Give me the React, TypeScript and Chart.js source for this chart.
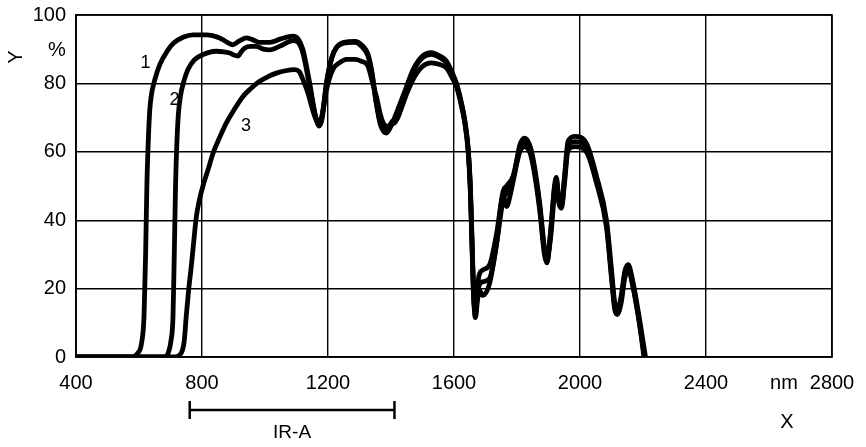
import React, { useEffect, useRef } from "react";
import { Chart, registerables } from "chart.js";

Chart.register(...registerables);

// Wavelength (nm) and transmission (%) for each curve
const wl1 = [400, 580, 595, 608, 616, 621, 625, 629, 634, 640, 650, 666, 690, 710, 740, 771, 814, 856, 880, 898, 920, 941, 960, 983, 1015, 1050, 1089, 1105, 1120, 1142, 1160, 1172, 1182, 1195, 1212, 1227, 1250, 1285, 1310, 1327, 1340, 1352, 1366, 1385, 1400, 1420, 1445, 1470, 1500, 1528, 1555, 1576, 1595, 1608, 1622, 1634, 1645, 1652, 1657, 1662, 1668, 1674, 1680, 1692, 1713, 1735, 1756, 1767, 1788, 1800, 1809, 1824, 1840, 1851, 1872, 1887, 1895, 1903, 1909, 1919, 1925, 1933, 1941, 1951, 1962, 1983, 2020, 2052, 2084, 2100, 2110, 2118, 2131, 2142, 2153, 2168, 2189, 2208];
const t1 = [0, 0, 1, 4, 12, 30, 50, 62, 72, 77, 81, 85.5, 89.5, 91.8, 93.5, 94.2, 94.2, 93.3, 92, 91.3, 92.5, 93.3, 92.8, 92, 92, 93, 93.8, 93, 90, 80, 70.5, 67.5, 70, 80, 87.5, 90.5, 92, 92.3, 91, 88.5, 83, 75, 68, 65.5, 67.5, 72, 78, 84, 88, 89, 88, 86.5, 83, 80, 75, 69.4, 61, 50, 35, 20, 12, 20, 24, 25.5, 27, 36, 48.5, 50, 53, 58, 62, 64, 62, 58, 45, 32, 28, 33, 39, 50, 52.5, 46, 44.5, 53, 63, 64.5, 62.5, 53, 40, 25.5, 16, 13.5, 18, 25, 27, 22, 11, 0];

const wl2 = [400, 680, 692, 702, 708, 712, 716, 720, 725, 732, 742, 755, 775, 793, 820, 846, 870, 888, 903, 914, 925, 935, 955, 973, 995, 1015, 1050, 1089, 1105, 1120, 1142, 1160, 1170, 1182, 1195, 1212, 1227, 1250, 1285, 1310, 1327, 1340, 1352, 1368, 1388, 1400, 1412, 1425, 1445, 1470, 1500, 1528, 1555, 1576, 1595, 1608, 1622, 1634, 1645, 1652, 1657, 1662, 1668, 1674, 1680, 1692, 1713, 1735, 1756, 1767, 1788, 1809, 1824, 1840, 1851, 1872, 1887, 1895, 1903, 1909, 1919, 1925, 1933, 1941, 1951, 1962, 1983, 2020, 2052, 2084, 2100, 2110, 2118, 2131, 2142, 2153, 2168, 2189, 2205];
const t2 = [0, 0, 1, 5, 12, 30, 50, 62, 71, 76.5, 80.5, 84, 86.8, 88, 89, 89.4, 89.2, 88.9, 88.2, 88, 89.3, 90.3, 90.8, 90.8, 90, 89.8, 91, 92.5, 92, 89, 79, 70.5, 68.5, 71, 80, 87.5, 90.5, 91.8, 92, 90.5, 88, 82.5, 75, 68.5, 66.5, 68, 68.5, 71, 77, 83.5, 87.5, 88.5, 87.5, 86, 82.5, 79.5, 74.5, 69, 60.5, 49, 34, 19, 13, 18, 21, 22, 23, 33, 46, 48, 52.5, 61, 62.5, 61, 57, 44, 31, 28, 33, 39, 49.5, 51.5, 45.5, 44, 52, 61.5, 63, 61.5, 52, 39, 24, 15, 12.5, 17, 24, 26, 21, 10, 0];

const wl3 = [400, 715, 728, 738, 744, 750, 758, 766, 774, 782, 792, 803, 820, 835, 855, 877, 900, 930, 955, 983, 1010, 1036, 1065, 1094, 1108, 1121, 1137, 1152, 1164, 1174, 1184, 1195, 1215, 1236, 1260, 1285, 1305, 1327, 1342, 1354, 1366, 1378, 1392, 1405, 1418, 1430, 1450, 1475, 1500, 1528, 1555, 1576, 1595, 1608, 1622, 1634, 1645, 1652, 1657, 1662, 1668, 1674, 1680, 1692, 1713, 1735, 1756, 1767, 1780, 1788, 1809, 1824, 1840, 1851, 1872, 1887, 1895, 1903, 1909, 1919, 1925, 1933, 1941, 1951, 1962, 1983, 2020, 2052, 2084, 2100, 2110, 2118, 2131, 2142, 2153, 2168, 2189, 2203];
const t3 = [0, 0, 0.5, 2, 5, 12, 20, 26.5, 34, 41, 46, 50, 55, 59.6, 64, 68.4, 72, 76.2, 78.5, 80.6, 82, 83, 83.7, 84, 83.5, 81, 77, 72, 69, 68.3, 72, 78, 84, 86, 87, 87, 86.5, 85, 80, 76, 71, 68, 67.5, 69, 69.5, 72, 77, 82, 85, 86, 85.5, 84.5, 81.5, 79, 74, 68.5, 60, 48, 33, 18, 11.5, 16, 19.5, 18, 21.5, 33, 47, 44, 48, 51.5, 60, 61.5, 60, 56, 43, 30, 27.5, 32, 37, 48, 51, 45, 43.5, 51, 60.5, 61.5, 60, 51, 38, 23, 14, 12.5, 16, 23, 25.5, 20.5, 9.5, 0];

const xTicks = [400, 800, 1200, 1600, 2000, 2400, 2800];
const yTicks = [0, 20, 40, 60, 80, 100];

// Curve number labels: [text, wavelength, percent]
const curveLabels: [string, number, number][] = [
  ["1", 621, 86],
  ["2", 713, 75],
  ["3", 940, 67.5],
];

// IR-A band range (nm)
const irA = { from: 761, to: 1411, label: "IR-A" };

const FONT = "'Liberation Sans', Arial, sans-serif";

const toPoints = (xs: number[], ys: number[]) => xs.map((x, i) => ({ x, y: ys[i] }));

const annotations = {
  id: "annotations",
  afterDraw(chart: any) {
    const ctx = chart.ctx;
    const xs = chart.scales.x;
    const ys = chart.scales.y;
    const area = chart.chartArea;
    ctx.save();
    ctx.fillStyle = "#000";
    ctx.strokeStyle = "#000";
    ctx.textAlign = "center";
    ctx.textBaseline = "middle";
    ctx.font = `18px ${FONT}`;
    curveLabels.forEach(([t, x, y]) => {
      ctx.fillText(t, xs.getPixelForValue(x), ys.getPixelForValue(y));
    });
    // axis names
    ctx.font = `20px ${FONT}`;
    ctx.fillText("%", area.left - 19, area.top + 35);
    ctx.fillText("nm", 784, area.bottom + 26);
    ctx.fillText("X", 787, area.bottom + 65);
    ctx.save();
    ctx.translate(16, area.top + 42);
    ctx.rotate(-Math.PI / 2);
    ctx.fillText("Y", 0, 0);
    ctx.restore();
    // IR-A band
    const x0 = xs.getPixelForValue(irA.from);
    const x1 = xs.getPixelForValue(irA.to);
    const yb = area.bottom + 53;
    ctx.lineWidth = 2.5;
    ctx.beginPath();
    ctx.moveTo(x0, yb);
    ctx.lineTo(x1, yb);
    ctx.moveTo(x0, yb - 9);
    ctx.lineTo(x0, yb + 9);
    ctx.moveTo(x1, yb - 9);
    ctx.lineTo(x1, yb + 9);
    ctx.stroke();
    ctx.font = `19px ${FONT}`;
    ctx.fillText(irA.label, (x0 + x1) / 2, area.bottom + 76);
    ctx.restore();
  },
};

export default function App() {
  const ref = useRef<HTMLCanvasElement>(null);
  useEffect(() => {
    if (!ref.current) return;
    const ds = (d: any) => ({
      data: d,
      borderColor: "#000",
      borderWidth: 4.8,
      pointRadius: 0,
      fill: false,
      cubicInterpolationMode: "monotone",
      borderJoinStyle: "round",
      borderCapStyle: "round",
    });
    const chart = new Chart(ref.current, {
      type: "line",
      data: {
        datasets: [ds(toPoints(wl1, t1)), ds(toPoints(wl2, t2)), ds(toPoints(wl3, t3))],
      },
      options: {
        animation: false,
        responsive: false,
        layout: { padding: { left: 0, right: 34, top: 15, bottom: 0 } },
        plugins: { legend: { display: false }, tooltip: { enabled: false } },
        scales: {
          x: {
            type: "linear",
            min: 400,
            max: 2800,
            afterBuildTicks: (s: any) => {
              s.ticks = xTicks.map((v) => ({ value: v }));
            },
            afterFit: (s: any) => {
              s.height = 90;
              s.paddingLeft = 0;
              s.paddingRight = 0;
            },
            grid: { color: "#000", lineWidth: 1.4, drawTicks: false },
            border: { color: "#000", width: 1.6 },
            ticks: {
              color: "#000",
              font: { family: FONT, size: 20 },
              padding: 14,
              maxRotation: 0,
              callback: (v: any) => String(v),
            },
          },
          y: {
            type: "linear",
            min: 0,
            max: 100,
            afterBuildTicks: (s: any) => {
              s.ticks = yTicks.map((v) => ({ value: v }));
            },
            afterFit: (s: any) => {
              s.width = 76;
              s.paddingTop = 0;
              s.paddingBottom = 0;
            },
            grid: { color: "#000", lineWidth: 1.4, drawTicks: false },
            border: { color: "#000", width: 1.6 },
            ticks: {
              color: "#000",
              font: { family: FONT, size: 20 },
              padding: 10,
              callback: (v: any) => String(v),
            },
          },
        },
      },
      plugins: [
        annotations,
        {
          id: "frame",
          afterDraw(chart: any) {
            const { ctx, chartArea: a } = chart;
            ctx.save();
            ctx.strokeStyle = "#000";
            ctx.lineWidth = 1.6;
            ctx.strokeRect(a.left, a.top, a.right - a.left, a.bottom - a.top);
            ctx.restore();
          },
        },
      ],
    } as any);
    return () => chart.destroy();
  }, []);
  return (
    <div style={{ position: "fixed", left: 0, top: 0, width: 866, height: 447, background: "#fff" }}>
      <canvas ref={ref} width={866} height={447} style={{ width: 866, height: 447 }} />
    </div>
  );
}
